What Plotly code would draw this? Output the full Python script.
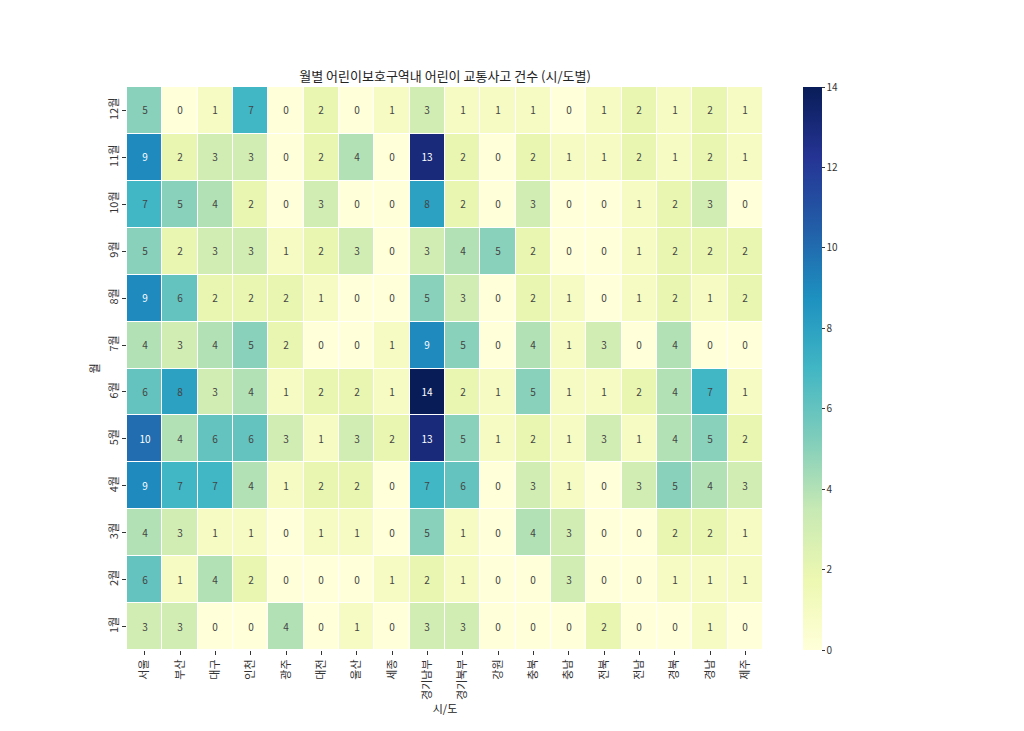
import plotly.graph_objects as go

regions = ["서울", "부산", "대구", "인천", "광주", "대전", "울산", "세종", "경기남부",
           "경기북부", "강원", "충북", "충남", "전북", "전남", "경북", "경남", "제주"]
months = ["1월", "2월", "3월", "4월", "5월", "6월", "7월", "8월", "9월", "10월", "11월", "12월"]

# rows: 1월 .. 12월
m01 = [3, 3, 0, 0, 4, 0, 1, 0, 3, 3, 0, 0, 0, 2, 0, 0, 1, 0]
m02 = [6, 1, 4, 2, 0, 0, 0, 1, 2, 1, 0, 0, 3, 0, 0, 1, 1, 1]
m03 = [4, 3, 1, 1, 0, 1, 1, 0, 5, 1, 0, 4, 3, 0, 0, 2, 2, 1]
m04 = [9, 7, 7, 4, 1, 2, 2, 0, 7, 6, 0, 3, 1, 0, 3, 5, 4, 3]
m05 = [10, 4, 6, 6, 3, 1, 3, 2, 13, 5, 1, 2, 1, 3, 1, 4, 5, 2]
m06 = [6, 8, 3, 4, 1, 2, 2, 1, 14, 2, 1, 5, 1, 1, 2, 4, 7, 1]
m07 = [4, 3, 4, 5, 2, 0, 0, 1, 9, 5, 0, 4, 1, 3, 0, 4, 0, 0]
m08 = [9, 6, 2, 2, 2, 1, 0, 0, 5, 3, 0, 2, 1, 0, 1, 2, 1, 2]
m09 = [5, 2, 3, 3, 1, 2, 3, 0, 3, 4, 5, 2, 0, 0, 1, 2, 2, 2]
m10 = [7, 5, 4, 2, 0, 3, 0, 0, 8, 2, 0, 3, 0, 0, 1, 2, 3, 0]
m11 = [9, 2, 3, 3, 0, 2, 4, 0, 13, 2, 0, 2, 1, 1, 2, 1, 2, 1]
m12 = [5, 0, 1, 7, 0, 2, 0, 1, 3, 1, 1, 1, 0, 1, 2, 1, 2, 1]

z = [m01, m02, m03, m04, m05, m06, m07, m08, m09, m10, m11, m12]

FONT = "Noto Sans CJK KR"

fig = go.Figure(go.Heatmap(
    z=z, x=regions, y=months,
    colorscale="YlGnBu", zmin=0, zmax=14,
    xgap=1, ygap=1,
    texttemplate="%{z}", textfont=dict(size=10, family=FONT),
    colorbar=dict(x=1.063, xanchor="left", y=0.5, yanchor="middle", len=1,
                  thickness=19, outlinewidth=0, xpad=0, ypad=0,
                  tickmode="linear", tick0=0, dtick=2,
                  ticks="outside", ticklen=3, tickcolor="#333",
                  tickfont=dict(size=10, family=FONT, color="#333")),
))

# page body adds 8px, so margins are shifted by that
fig.update_layout(
    width=1024, height=731,
    margin=dict(l=119, r=269, t=79, b=89),
    paper_bgcolor="white", plot_bgcolor="white",
    font=dict(family=FONT, color="#222"),
    title=dict(text="월별 어린이보호구역내 어린이 교통사고 건수 (시/도별)",
               x=0.4268, xanchor="center", y=0.906, yanchor="middle",
               font=dict(size=13, family=FONT, color="#222")),
)
fig.update_xaxes(tickangle=-90, ticks="outside", ticklen=4, tickcolor="#333",
                 automargin=False,
                 tickfont=dict(size=11, family=FONT, color="#333"),
                 title=dict(text="시/도", font=dict(size=11, family=FONT), standoff=2),
                 showgrid=False, zeroline=False)
fig.update_yaxes(tickangle=-90, ticks="outside", ticklen=4, tickcolor="#333",
                 automargin=False,
                 tickfont=dict(size=11, family=FONT, color="#333"),
                 title=dict(text="월", font=dict(size=11, family=FONT), standoff=2),
                 showgrid=False, zeroline=False)

fig.write_html("out.html")
